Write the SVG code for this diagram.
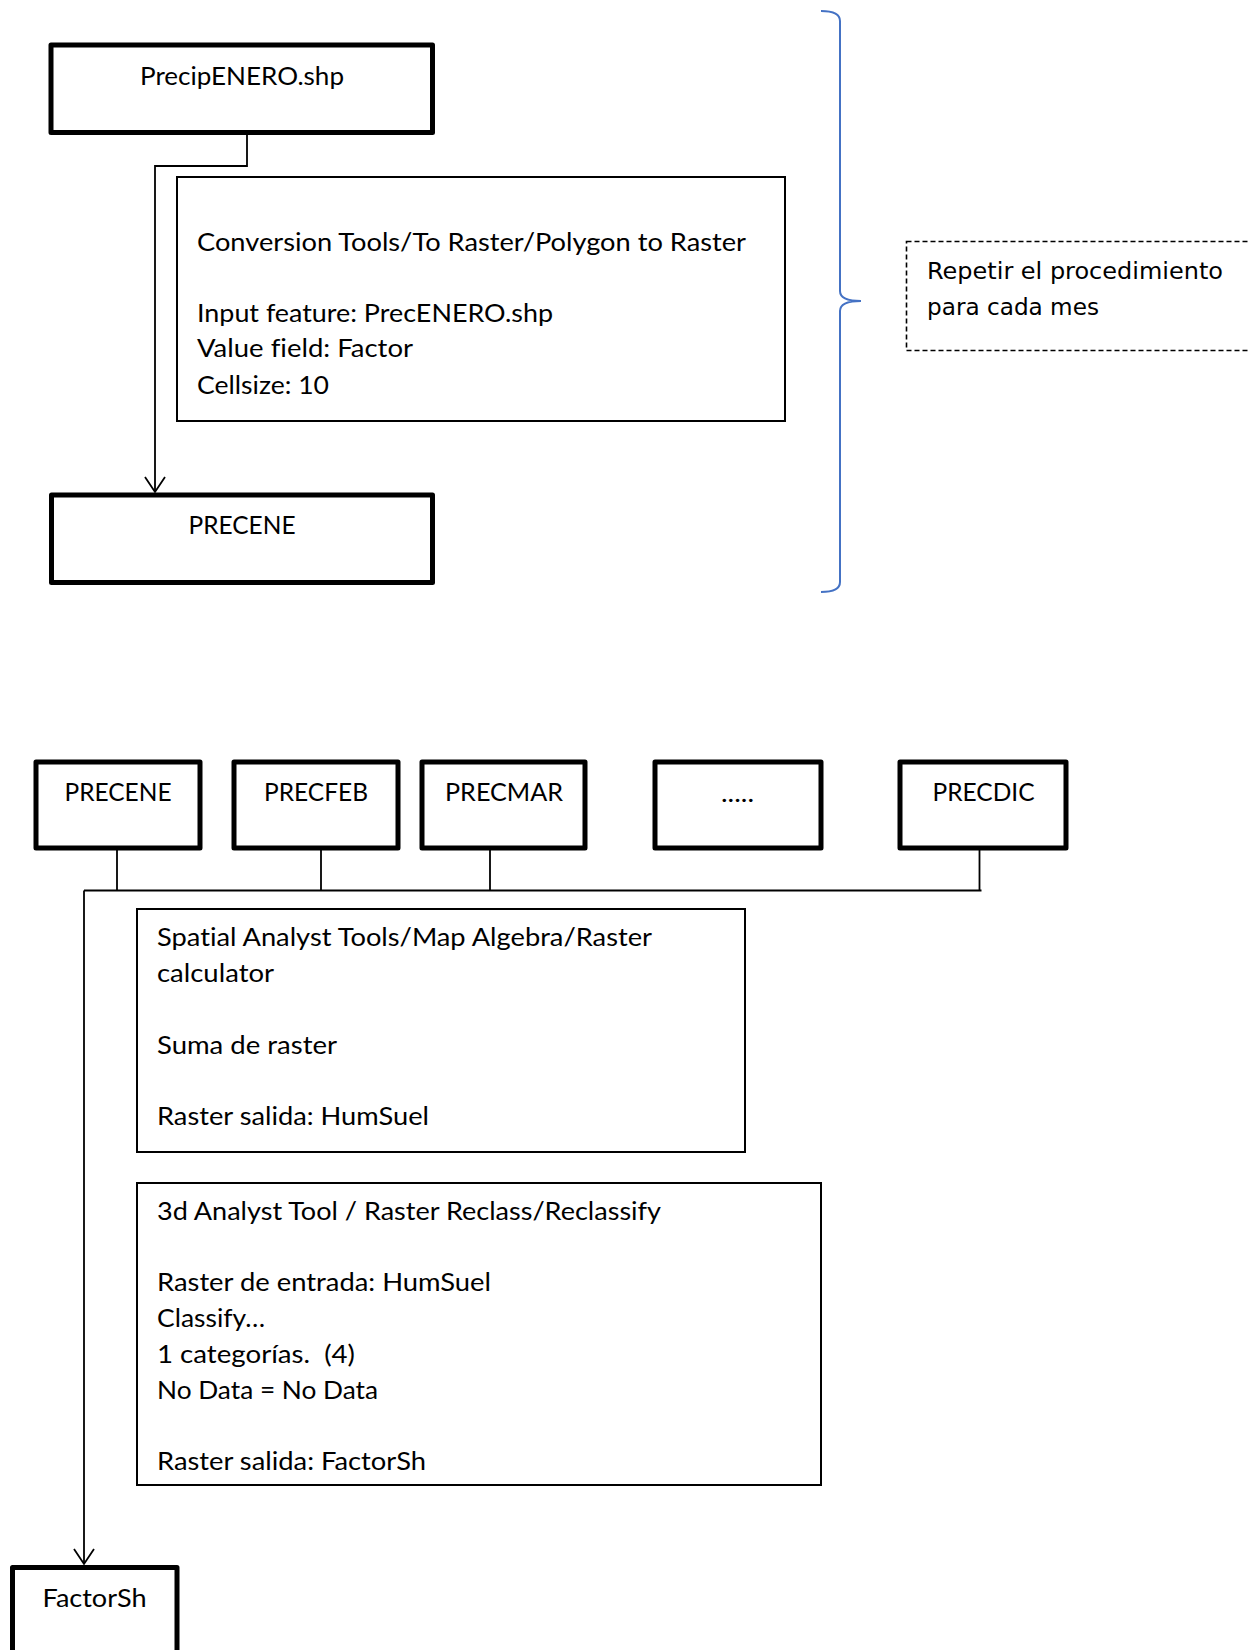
<svg xmlns="http://www.w3.org/2000/svg" width="1250" height="1650" viewBox="0 0 1250 1650">
  <style>
    .t { font-family: Lato, "Liberation Sans", sans-serif; font-size: 25px; fill: #000; font-variant-ligatures: none; }
    .n { font-family: "DejaVu Sans", sans-serif; font-size: 23.5px; fill: #000; }
    .thick { fill: #fff; stroke: #000; stroke-width: 5; stroke-linejoin: round; }
    .thin { fill: #fff; stroke: #000; stroke-width: 2; }
    .dash { fill: #fff; stroke: #000; stroke-width: 1.6; stroke-dasharray: 5 3; }
    .wire { fill: none; stroke: #000; stroke-width: 1.8; }
    .brace { fill: none; stroke: #4472C4; stroke-width: 2; }
  </style>
  <defs>
    <marker id="vhead" viewBox="-17 -12 19 24" refX="0" refY="0" markerWidth="19" markerHeight="24" markerUnits="userSpaceOnUse" orient="auto">
      <path d="M -15 -10 L 0 0 L -15 10" fill="none" stroke="#000" stroke-width="1.8"/>
    </marker>
  </defs>
  <rect width="1250" height="1650" fill="#fff"/>

  <!-- connectors -->
  <g id="connectors">
    <path class="wire" d="M 247 133 V 166 H 155 V 492" marker-end="url(#vhead)"/>
    <path class="wire" d="M 117 850 V 890.5 M 321 850 V 890.5 M 490 850 V 890.5 M 979.5 850 V 890.5 M 84 890.5 H 981.5"/>
    <path class="wire" d="M 84 890.5 V 1564" marker-end="url(#vhead)"/>
  </g>

  <!-- per-month conversion step -->
  <g id="precip-enero-shp">
    <rect class="thick" x="51" y="45" width="381.5" height="87.5"/>
    <text class="t" x="140" y="85" textLength="204" lengthAdjust="spacingAndGlyphs">PrecipENERO.shp</text>
  </g>
  <g id="polygon-to-raster">
    <rect class="thin" x="177" y="177" width="608" height="244"/>
    <text class="t" x="197" y="250.5" textLength="549" lengthAdjust="spacingAndGlyphs">Conversion Tools/To Raster/Polygon to Raster</text>
    <text class="t" x="197" y="322" textLength="356" lengthAdjust="spacingAndGlyphs">Input feature: PrecENERO.shp</text>
    <text class="t" x="197" y="357" textLength="216" lengthAdjust="spacingAndGlyphs">Value field: Factor</text>
    <text class="t" x="197" y="393.5" textLength="132" lengthAdjust="spacingAndGlyphs">Cellsize: 10</text>
  </g>
  <g id="precene-out">
    <rect class="thick" x="51.5" y="495" width="381" height="87.5"/>
    <text class="t" x="188.5" y="534" textLength="107" lengthAdjust="spacingAndGlyphs">PRECENE</text>
  </g>

  <!-- repeat note with brace -->
  <g id="repeat-brace">
    <path class="brace" d="M 821 11 Q 840 11 840 21 L 840 291 Q 840 301 861 301 Q 840 301 840 311 L 840 582 Q 840 592 821 592"/>
  </g>
  <g id="repeat-note">
    <rect class="dash" x="906.5" y="241.5" width="360" height="109"/>
    <text class="n" x="927" y="279" textLength="296" lengthAdjust="spacingAndGlyphs">Repetir el procedimiento</text>
    <text class="n" x="927" y="314.5" textLength="172" lengthAdjust="spacingAndGlyphs">para cada mes</text>
  </g>

  <!-- monthly rasters -->
  <g id="precene">
    <rect class="thick" x="36" y="762" width="164" height="86"/>
    <text class="t" x="64.5" y="801" textLength="107" lengthAdjust="spacingAndGlyphs">PRECENE</text>
  </g>
  <g id="precfeb">
    <rect class="thick" x="234" y="762" width="164" height="86"/>
    <text class="t" x="264" y="801" textLength="104" lengthAdjust="spacingAndGlyphs">PRECFEB</text>
  </g>
  <g id="precmar">
    <rect class="thick" x="422" y="762" width="163" height="86"/>
    <text class="t" x="445" y="801" textLength="118" lengthAdjust="spacingAndGlyphs">PRECMAR</text>
  </g>
  <g id="ellipsis">
    <rect class="thick" x="655" y="762" width="166" height="86"/>
    <text class="t" x="721" y="802" textLength="33" lengthAdjust="spacingAndGlyphs">.....</text>
  </g>
  <g id="precdic">
    <rect class="thick" x="900" y="762" width="166" height="86"/>
    <text class="t" x="932.5" y="801" textLength="102" lengthAdjust="spacingAndGlyphs">PRECDIC</text>
  </g>

  <!-- processing steps -->
  <g id="raster-calculator">
    <rect class="thin" x="137" y="909" width="608" height="243"/>
    <text class="t" x="157" y="946" textLength="495" lengthAdjust="spacingAndGlyphs">Spatial Analyst Tools/Map Algebra/Raster</text>
    <text class="t" x="157" y="982" textLength="117" lengthAdjust="spacingAndGlyphs">calculator</text>
    <text class="t" x="157" y="1053.5" textLength="180" lengthAdjust="spacingAndGlyphs">Suma de raster</text>
    <text class="t" x="157" y="1125" textLength="272" lengthAdjust="spacingAndGlyphs">Raster salida: HumSuel</text>
  </g>
  <g id="reclassify">
    <rect class="thin" x="137" y="1183" width="684" height="302"/>
    <text class="t" x="157" y="1219.5" textLength="504" lengthAdjust="spacingAndGlyphs">3d Analyst Tool / Raster Reclass/Reclassify</text>
    <text class="t" x="157" y="1291" textLength="334" lengthAdjust="spacingAndGlyphs">Raster de entrada: HumSuel</text>
    <text class="t" x="157" y="1327" textLength="108" lengthAdjust="spacingAndGlyphs">Classify…</text>
    <text class="t" x="157" y="1362.5" textLength="198" lengthAdjust="spacingAndGlyphs" xml:space="preserve">1 categorías.  (4)</text>
    <text class="t" x="157" y="1398.5" textLength="221" lengthAdjust="spacingAndGlyphs">No Data = No Data</text>
    <text class="t" x="157" y="1470" textLength="269" lengthAdjust="spacingAndGlyphs">Raster salida: FactorSh</text>
  </g>

  <!-- result -->
  <g id="factorsh">
    <rect class="thick" x="12.5" y="1567.5" width="164.5" height="100"/>
    <text class="t" x="42.5" y="1606.5" textLength="104" lengthAdjust="spacingAndGlyphs">FactorSh</text>
  </g>
</svg>
